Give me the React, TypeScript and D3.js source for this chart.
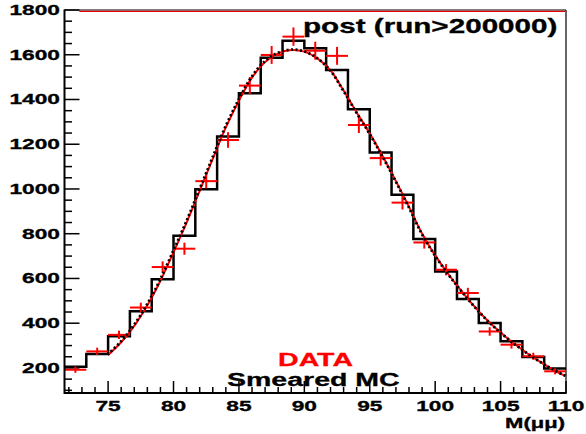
import React from "react";
import * as d3 from "d3";

// Bin centres of the M(μμ) histogram (bin width 5/3 GeV)
const binCenters = [72.5, 74.167, 75.833, 77.5, 79.167, 80.833, 82.5, 84.167, 85.833, 87.5, 89.167, 90.833, 92.5, 94.167, 95.833, 97.5, 99.167, 100.833, 102.5, 104.167, 105.833, 107.5, 109.167];
const binWidth = 5 / 3;
// Smeared MC histogram (black)
const mcValues = [205, 262, 342, 453, 597, 791, 999, 1234, 1428, 1587, 1663, 1629, 1532, 1356, 1163, 974, 776, 631, 508, 401, 319, 249, 197];
// DATA points (red crosses)
const dataValues = [192, 274, 348, 470, 651, 733, 1035, 1219, 1462, 1599, 1681, 1618, 1595, 1286, 1138, 939, 761, 639, 535, 363, 304, 252, 185];
// Fit curve
const fitMass = [75, 76, 77, 78, 79, 80, 81, 82, 83, 84, 85, 86, 87, 88, 89, 90, 91, 92, 93, 94, 95, 96, 97, 98, 99, 100, 101, 102, 103, 104, 105, 106, 107, 108, 109, 110];
const fitValues = [258, 315, 388, 480, 590, 718, 850, 992, 1135, 1275, 1395, 1498, 1568, 1606, 1621, 1614, 1584, 1530, 1440, 1342, 1248, 1145, 1035, 920, 800, 703, 620, 545, 475, 412, 358, 310, 267, 228, 193, 163];

const xMajorTicks = [75, 80, 85, 90, 95, 100, 105, 110];
const yMajorTicks = [200, 400, 600, 800, 1000, 1200, 1400, 1600, 1800];
const xDomain = [71.667, 110];
const yDomain = [88, 1800];

const FONT = "'Liberation Sans', Arial, Helvetica, sans-serif";

function SText(props: { x: number; y: number; anchor?: string; size: number; sx?: number; fill?: string; children: React.ReactNode }) {
  const { x, y, anchor = "start", size, sx = 1.5, fill = "#000", children } = props;
  return (
    <text
      transform={`translate(${x},${y}) scale(${sx},1)`}
      textAnchor={anchor as any}
      fontFamily={FONT}
      fontWeight="bold"
      fontSize={size}
      fill={fill}
      stroke={fill}
      strokeWidth={0.3}
    >
      {children}
    </text>
  );
}

export default function App() {
  const W = 586, H = 434;
  const x = d3.scaleLinear().domain(xDomain).range([64.5, 566]);
  const y = d3.scaleLinear().domain(yDomain).range([393, 10]);

  // histogram step outline
  let hist = "";
  binCenters.forEach((c, i) => {
    const lo = c - binWidth / 2, hi = c + binWidth / 2;
    const lx = Math.max(x(lo), x(xDomain[0]));
    if (i === 0) hist += `M${lx},${y(mcValues[i])}`;
    else hist += `L${x(lo)},${y(mcValues[i])}`;
    hist += `L${Math.min(x(hi), x(xDomain[1]))},${y(mcValues[i])}`;
  });

  const fitLine = d3
    .line<number>()
    .x((_, i) => x(fitMass[i]))
    .y((v) => y(v))
    .curve(d3.curveCatmullRom.alpha(0.5));
  const fitPath = fitLine(fitValues) || "";

  const xMinor = d3.range(72, 110, 1).filter((t) => t % 5 !== 0);
  const yMinor = d3.range(100, 1800, 50).filter((t) => t % 200 !== 0);

  const x0 = x(xDomain[0]);
  const x1 = x(xDomain[1]);
  const yb = y(yDomain[0]);
  const yt = y(yDomain[1]);

  return (
    <svg width={W} height={H} style={{ position: "absolute", left: 0, top: 0, background: "#fff" }}>
      <rect x={0} y={0} width={W} height={H} fill="#fff" />
      {/* frame */}
      <line x1={x0} y1={yt} x2={x1} y2={yt} stroke="#000" strokeWidth={1.2} />
      <line x1={x1} y1={yt} x2={x1} y2={yb} stroke="#000" strokeWidth={1.2} />
      <line x1={x(72.8)} y1={yt + 1.3} x2={x1 - 1} y2={yt + 1.3} stroke="#e00000" strokeWidth={1.3} />

      {/* y ticks */}
      {yMajorTicks.map((t) => (
        <g key={"ym" + t}>
          <line x1={x0} x2={x0 + 15} y1={y(t)} y2={y(t)} stroke="#000" strokeWidth={1.5} />
          <SText x={60} y={y(t) + 5} anchor="end" size={14.2} sx={1.6}>{t}</SText>
        </g>
      ))}
      {yMinor.map((t) => (
        <line key={"yn" + t} x1={x0} x2={x0 + 7.5} y1={y(t)} y2={y(t)} stroke="#000" strokeWidth={1.5} />
      ))}
      {/* x ticks */}
      {xMajorTicks.map((t) => (
        <g key={"xm" + t}>
          <line x1={x(t)} x2={x(t)} y1={yb} y2={yb - 12} stroke="#000" strokeWidth={1.5} />
          <SText x={x(t)} y={410.5} anchor="middle" size={14.2} sx={1.6}>{t}</SText>
        </g>
      ))}
      {xMinor.map((t) => (
        <line key={"xn" + t} x1={x(t)} x2={x(t)} y1={yb} y2={yb - 6} stroke="#000" strokeWidth={1.5} />
      ))}

      {/* histogram */}
      <path d={hist} fill="none" stroke="#000" strokeWidth={2.5} strokeLinejoin="miter" />

      {/* data crosses */}
      {binCenters.map((c, i) => {
        const v = dataValues[i];
        const e = Math.sqrt(v);
        return (
          <g key={"d" + i} stroke="#ff0000" strokeWidth={2}>
            <line x1={Math.max(x(c - binWidth / 2), x0)} x2={Math.min(x(c + binWidth / 2), x1)} y1={y(v)} y2={y(v)} />
            <line x1={x(c)} x2={x(c)} y1={y(v - e)} y2={y(v + e)} />
          </g>
        );
      })}

      {/* fit curves */}
      <path d={fitPath} fill="none" stroke="#ff0000" strokeWidth={2} />
      <path d={fitPath} fill="none" stroke="#000" strokeWidth={2.8} strokeDasharray="2,2.5" transform="translate(-0.6,-0.4)" />

      {/* axes */}
      <line x1={x0} y1={yt - 0.5} x2={x0} y2={yb + 1} stroke="#000" strokeWidth={2} />
      <line x1={x0} y1={yb} x2={x1 + 0.6} y2={yb} stroke="#000" strokeWidth={2} />

      {/* texts */}
      <SText x={303} y={33} size={19.5} sx={1.52}>post (run&gt;200000)</SText>
      <SText x={315.5} y={366} anchor="middle" size={19} fill="#ff0000">DATA</SText>
      <SText x={227} y={386} size={19}>Smeared MC</SText>
      <SText x={565} y={428} anchor="end" size={14.2} sx={1.55}>M(μμ)</SText>
    </svg>
  );
}
